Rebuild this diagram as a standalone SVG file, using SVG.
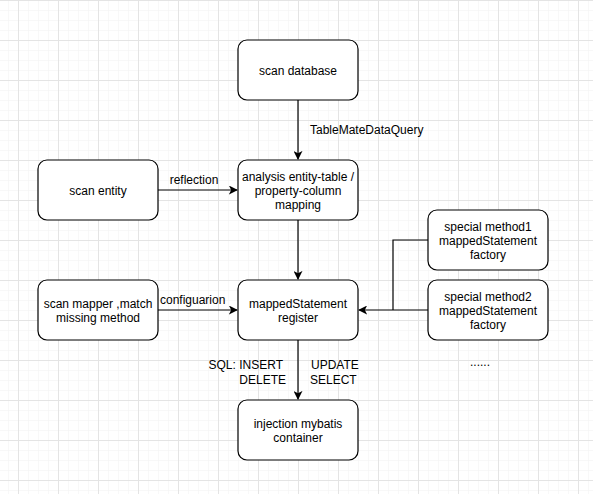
<svg xmlns="http://www.w3.org/2000/svg" width="593" height="494" viewBox="0 0 593 494">
<defs>
<pattern id="minor" x="8" y="0" width="10" height="10" patternUnits="userSpaceOnUse">
<path d="M0 0V10M0 0H10" fill="none" stroke="#f2f2f2" stroke-width="1"/>
</pattern>
<pattern id="major" x="18" y="0" width="40" height="40" patternUnits="userSpaceOnUse">
<path d="M0.5 0V40M0 0.5H40" fill="none" stroke="#e4e4e4" stroke-width="1"/>
</pattern>
<marker id="arr" viewBox="0 0 10 10" refX="9" refY="5" markerWidth="9" markerHeight="9" markerUnits="userSpaceOnUse" orient="auto">
<path d="M0 0L10 5L0 10L2.5 5Z" fill="#000"/>
</marker>
<style>
.box{fill:#fff;stroke:#000;stroke-width:1.2}
.t{font-family:"Liberation Sans",Arial,sans-serif;font-size:12px;fill:#000;text-anchor:middle}
.l{font-family:"Liberation Sans",Arial,sans-serif;font-size:12px;fill:#000}
.c{fill:none;stroke:#000;stroke-width:1.2}
</style>
</defs>
<rect width="593" height="494" fill="#fff"/>
<rect width="593" height="494" fill="url(#minor)"/>
<rect width="593" height="494" fill="url(#major)"/>

<g id="connectors">
<path class="c" d="M298 100V159" marker-end="url(#arr)"/>
<text class="l" x="310" y="134">TableMateDataQuery</text>
<path class="c" d="M158 190H237" marker-end="url(#arr)"/>
<text class="t" x="194" y="184">reflection</text>
<path class="c" d="M298 220V279" marker-end="url(#arr)"/>
<path class="c" d="M158 310H237" marker-end="url(#arr)"/>
<text class="l" x="160" y="304">configuarion</text>
<path class="c" d="M428 240H393V310"/>
<path class="c" d="M428 310H359" marker-end="url(#arr)"/>
<path class="c" d="M298 340V399" marker-end="url(#arr)"/>
<text class="l" x="283" y="369" text-anchor="end">SQL: INSERT</text>
<text class="l" x="286" y="384" text-anchor="end">DELETE</text>
<text class="l" x="311" y="369">UPDATE</text>
<text class="l" x="310" y="384">SELECT</text>
</g>

<g id="scan-database">
<rect class="box" x="238" y="40" width="120" height="60" rx="9"/>
<text class="t" x="298" y="75">scan database</text>
</g>
<g id="analysis">
<rect class="box" x="238" y="160" width="120" height="60" rx="9"/>
<text class="t" x="298" y="181">analysis entity-table /</text>
<text class="t" x="298" y="195">property-column</text>
<text class="t" x="298" y="209">mapping</text>
</g>
<g id="scan-entity">
<rect class="box" x="38" y="160" width="120" height="60" rx="9"/>
<text class="t" x="98" y="195">scan entity</text>
</g>
<g id="mappedstatement-register">
<rect class="box" x="238" y="280" width="120" height="60" rx="9"/>
<text class="t" x="298" y="308">mappedStatement</text>
<text class="t" x="298" y="322">register</text>
</g>
<g id="scan-mapper">
<rect class="box" x="38" y="280" width="120" height="60" rx="9"/>
<text class="t" x="98" y="308">scan mapper ,match</text>
<text class="t" x="98" y="322">missing method</text>
</g>
<g id="special-method1">
<rect class="box" x="428" y="210" width="120" height="60" rx="9"/>
<text class="t" x="488" y="231">special method1</text>
<text class="t" x="488" y="245">mappedStatement</text>
<text class="t" x="488" y="259">factory</text>
</g>
<g id="special-method2">
<rect class="box" x="428" y="280" width="120" height="60" rx="9"/>
<text class="t" x="488" y="301">special method2</text>
<text class="t" x="488" y="315">mappedStatement</text>
<text class="t" x="488" y="329">factory</text>
</g>
<g id="ellipsis">
<text class="t" x="480" y="366">......</text>
</g>
<g id="injection">
<rect class="box" x="238" y="400" width="120" height="60" rx="9"/>
<text class="t" x="298" y="428">injection mybatis</text>
<text class="t" x="298" y="442">container</text>
</g>
</svg>
